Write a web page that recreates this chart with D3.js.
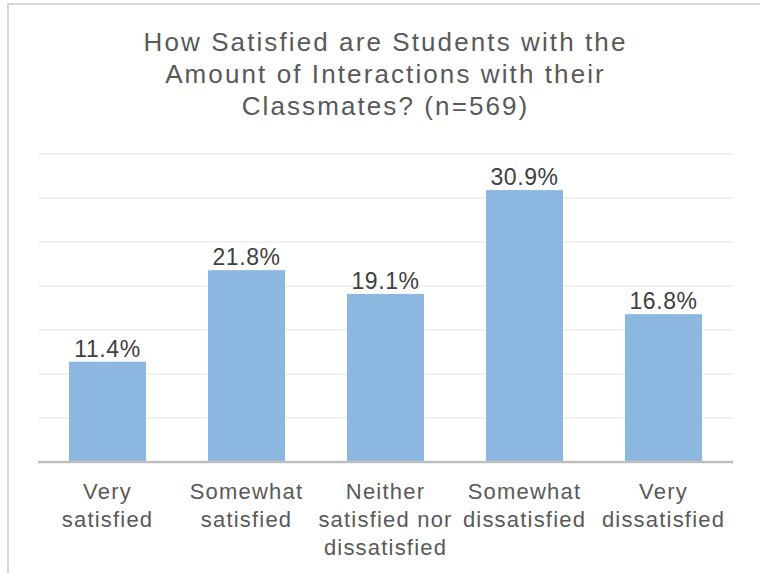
<!DOCTYPE html>
<html>
<head>
<meta charset="utf-8">
<script src="https://cdn.jsdelivr.net/npm/d3@7/dist/d3.min.js"></script>
<style>
  html, body { margin: 0; padding: 0; background: #fff; }
  svg { display: block; }
  text { font-family: "Liberation Sans", Arial, sans-serif; }
</style>
</head>
<body>
<svg id="chart" width="760" height="573"></svg>
<script>
const titleLines = ["How Satisfied are Students with the", "Amount of Interactions with their", "Classmates? (n=569)"];
const categories = ["Very satisfied", "Somewhat satisfied", "Neither satisfied nor dissatisfied", "Somewhat dissatisfied", "Very dissatisfied"];
const categoryLines = [["Very", "satisfied"], ["Somewhat", "satisfied"], ["Neither", "satisfied nor", "dissatisfied"], ["Somewhat", "dissatisfied"], ["Very", "dissatisfied"]];
const values = [11.4, 21.8, 19.1, 30.9, 16.8];
const gridTicks = [0, 5, 10, 15, 20, 25, 30, 35];

const svg = d3.select("#chart");
const W = 760, H = 573;
const plot = { left: 38, right: 733, top: 154, bottom: 462 };

// outer border
svg.append("path")
  .attr("d", `M8,${H + 5} L8,4 L${W + 5},4`)
  .attr("fill", "none").attr("stroke", "#d9d9d9").attr("stroke-width", 2);

// title
const title = svg.append("text")
  .attr("text-anchor", "middle")
  .attr("fill", "#595959")
  .attr("font-size", 26)
  .attr("letter-spacing", "2.1px");
titleLines.forEach((t, i) => {
  title.append("tspan").attr("x", (plot.left + plot.right) / 2).attr("y", 51 + i * 32).text(t);
});

const x = d3.scaleBand().domain(categories).range([plot.left, plot.right])
  .paddingInner(0.446).paddingOuter(0.223);
const y = d3.scaleLinear().domain([0, 35]).range([plot.bottom, plot.top]);

// gridlines
svg.append("g").selectAll("line").data(gridTicks.filter(d => d > 0)).join("line")
  .attr("x1", plot.left).attr("x2", plot.right)
  .attr("y1", d => y(d)).attr("y2", d => y(d))
  .attr("stroke", "#ececec").attr("stroke-width", 1.3);

// bars
svg.append("g").selectAll("rect").data(values).join("rect")
  .attr("x", (d, i) => x(categories[i]))
  .attr("width", x.bandwidth())
  .attr("y", d => y(d))
  .attr("height", d => y(0) - y(d))
  .attr("fill", "#8cb7e0");

// data labels
svg.append("g").selectAll("text").data(values).join("text")
  .attr("x", (d, i) => x(categories[i]) + x.bandwidth() / 2)
  .attr("y", d => y(d) - 5)
  .attr("text-anchor", "middle")
  .attr("fill", "#404040")
  .attr("font-size", 23)
  .attr("letter-spacing", "0.6px")
  .text(d => d.toFixed(1) + "%");

// x axis
const xAxis = svg.append("g")
  .attr("transform", `translate(0,${plot.bottom})`)
  .call(d3.axisBottom(x).tickSize(0).tickSizeOuter(0));
xAxis.select(".domain").attr("stroke", "#bfbfbf").attr("stroke-width", 2.5)
  .attr("d", `M${plot.left},0H${plot.right}`);
xAxis.selectAll(".tick text").each(function(d, i) {
  const t = d3.select(this);
  t.text(null)
    .attr("y", 0).attr("dy", null)
    .attr("fill", "#595959")
    .attr("font-size", 22)
    .attr("letter-spacing", "1.2px")
    .attr("font-family", "Liberation Sans, Arial, sans-serif");
  categoryLines[i].forEach((line, j) => {
    t.append("tspan").attr("x", 0).attr("y", 37 + j * 28).text(line);
  });
});
</script>
</body>
</html>
